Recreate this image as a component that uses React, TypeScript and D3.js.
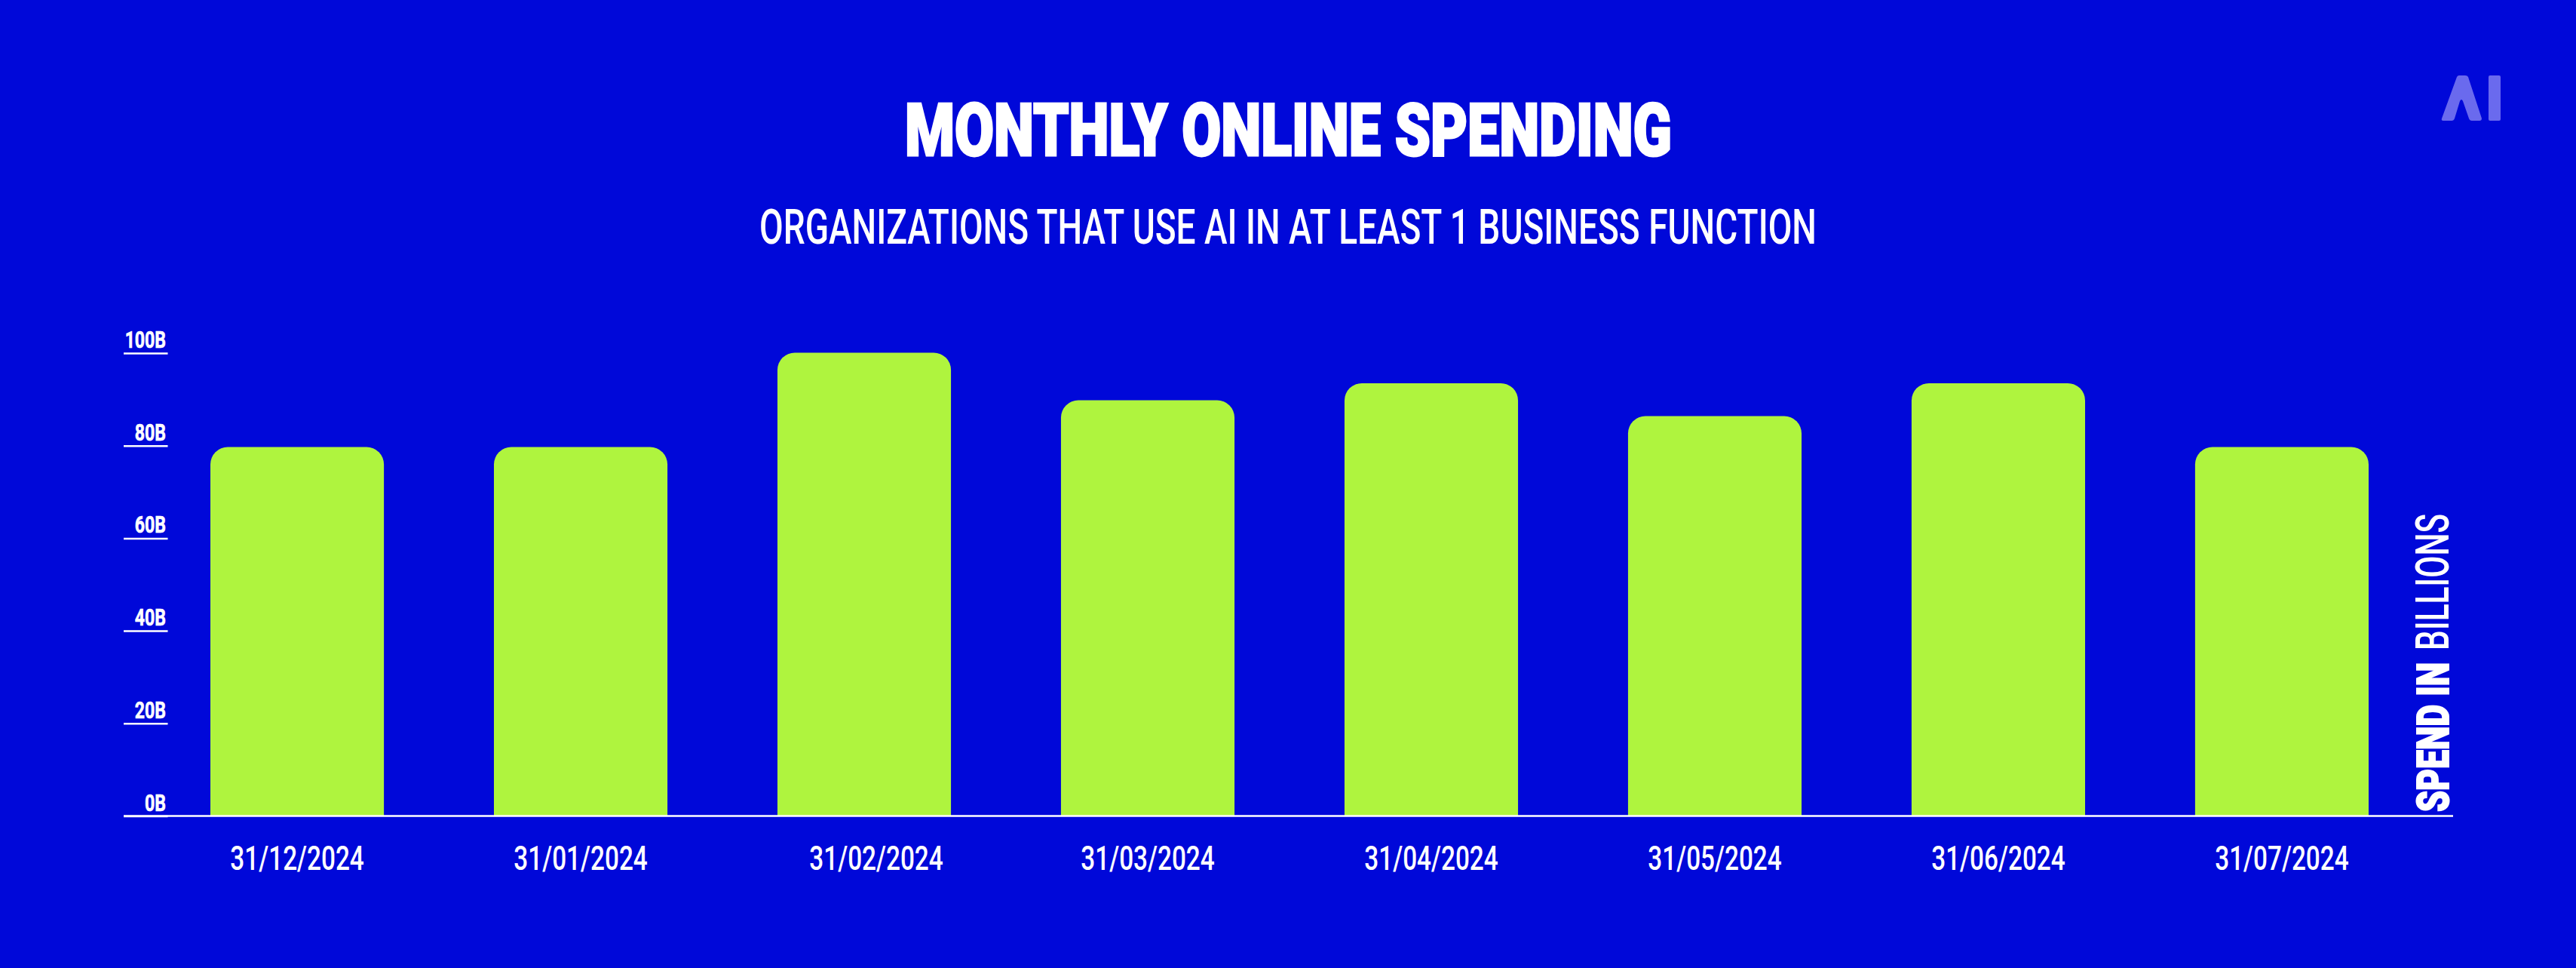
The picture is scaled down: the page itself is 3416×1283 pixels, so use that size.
import React, { useEffect, useRef } from 'react';
import * as d3 from 'd3';

const dates = ['31/12/2024', '31/01/2024', '31/02/2024', '31/03/2024', '31/04/2024', '31/05/2024', '31/06/2024', '31/07/2024'];
const spend = [79.7, 79.7, 100.1, 89.8, 93.5, 86.4, 93.5, 79.7];
const yTicks = [0, 20, 40, 60, 80, 100];

const W = 3416;
const H = 1283;
const BLUE = '#0008d9';
const LIME = '#aff43e';
const FONT = 'Roboto, "Liberation Sans", sans-serif';

const App: React.FC = () => {
  const svgRef = useRef<SVGSVGElement | null>(null);

  useEffect(() => {
    const svg = d3.select(svgRef.current);
    svg.selectAll('*').remove();

    svg.append('rect').attr('width', W).attr('height', H).attr('fill', BLUE);

    const x = d3.scaleBand<string>().domain(dates).range([279, 3141]).paddingInner(0.388);
    const y = d3.scaleLinear().domain([0, 100]).range([1081.5, 468]);

    // squeeze text horizontally, there is no condensed display font here
    const fit = (sel: any, k: number) => {
      sel.each(function (this: SVGTextElement) {
        const len = this.getComputedTextLength();
        d3.select(this).attr('textLength', len * k).attr('lengthAdjust', 'spacingAndGlyphs');
      });
    };

    // bars with rounded top corners
    const r = 23;
    const barPath = (d: number, i: number) => {
      const x0 = x(dates[i]) as number;
      const x1 = x0 + x.bandwidth();
      const p = d3.path();
      p.moveTo(x0, y(0));
      p.lineTo(x0, y(d) + r);
      p.arcTo(x0, y(d), x0 + r, y(d), r);
      p.lineTo(x1 - r, y(d));
      p.arcTo(x1, y(d), x1, y(d) + r, r);
      p.lineTo(x1, y(0));
      p.closePath();
      return p.toString();
    };
    svg.append('g').selectAll('path').data(spend).join('path')
      .attr('d', barPath)
      .attr('fill', LIME);

    // y axis: short ticks with the labels sitting on them
    const yAxis = d3.axisLeft(y).tickValues(yTicks).tickSize(58.5).tickFormat((d) => `${d}B`);
    const yG = svg.append('g').attr('transform', 'translate(222.5,0)').call(yAxis as any);
    yG.select('.domain').remove();
    yG.selectAll('line').attr('stroke', '#fff').attr('stroke-width', 2.5);
    yG.selectAll('text')
      .attr('x', -2.5).attr('dy', -7.5)
      .attr('fill', '#fff')
      .attr('stroke', '#fff').attr('stroke-width', 0.7)
      .attr('font-family', FONT)
      .attr('font-weight', 700)
      .attr('font-size', 32)
      .call(fit, 0.72);

    // x axis, the third label sits a little to the right of its bar in the original
    const xAxis = d3.axisBottom(x).tickSize(0).tickPadding(0);
    const xG = svg.append('g').attr('transform', 'translate(0,1082)').call(xAxis as any);
    xG.select('.domain').remove();
    xG.selectAll('text')
      .attr('y', 71).attr('dy', 0)
      .attr('x', (d: any, i: number) => (i === 2 ? 16 : 0))
      .attr('fill', '#fff')
      .attr('font-family', FONT)
      .attr('font-weight', 500)
      .attr('font-size', 45)
      .call(fit, 0.74);

    svg.append('line')
      .attr('x1', 164).attr('x2', 3253)
      .attr('y1', y(0)).attr('y2', y(0))
      .attr('stroke', '#fff').attr('stroke-width', 2.5);

    // titles
    svg.append('text')
      .attr('x', 1708.5).attr('y', 205.5)
      .attr('text-anchor', 'middle')
      .attr('font-family', FONT).attr('font-weight', 900).attr('font-size', 97)
      .attr('fill', '#fff').attr('stroke', '#fff').attr('stroke-width', 3)
      .attr('textLength', 1017).attr('lengthAdjust', 'spacingAndGlyphs')
      .text('MONTHLY ONLINE SPENDING');
    svg.append('text')
      .attr('x', 1708).attr('y', 323)
      .attr('text-anchor', 'middle')
      .attr('font-family', FONT).attr('font-weight', 500).attr('font-size', 64)
      .attr('fill', '#fff')
      .attr('textLength', 1402).attr('lengthAdjust', 'spacingAndGlyphs')
      .text('ORGANIZATIONS THAT USE AI IN AT LEAST 1 BUSINESS FUNCTION');

    // rotated unit label at the right
    const unit = svg.append('g').attr('transform', 'translate(3247,1076) rotate(-90)').attr('fill', '#fff');
    unit.append('text')
      .attr('font-family', FONT).attr('font-weight', 900).attr('font-size', 60)
      .attr('stroke', '#fff').attr('stroke-width', 2)
      .attr('textLength', 198).attr('lengthAdjust', 'spacingAndGlyphs')
      .text('SPEND IN');
    unit.append('text')
      .attr('x', 214)
      .attr('font-family', FONT).attr('font-weight', 500).attr('font-size', 61)
      .attr('textLength', 181).attr('lengthAdjust', 'spacingAndGlyphs')
      .text('BILLIONS');

    // logo
    const logo = svg.append('g').attr('fill', '#6a6aee');
    logo.append('title').text('AI');
    logo.append('path').attr('d', 'M3258 102 Q3259 100 3261 100 L3269 100 Q3272 100 3273 102 L3291 157 Q3291 160 3288 160 L3278 160 Q3275 160 3274 157 L3266 134 Q3264 130 3262 134 L3255 157 Q3254 160 3251 160 L3240 160 Q3237 160 3238 157 Z');
    logo.append('rect').attr('x', 3300).attr('y', 100).attr('width', 16).attr('height', 60).attr('rx', 2);
  }, []);

  return <svg ref={svgRef} width={W} height={H} style={{ position: 'absolute', left: 0, top: 0, display: 'block' }} />;
};

export default App;
